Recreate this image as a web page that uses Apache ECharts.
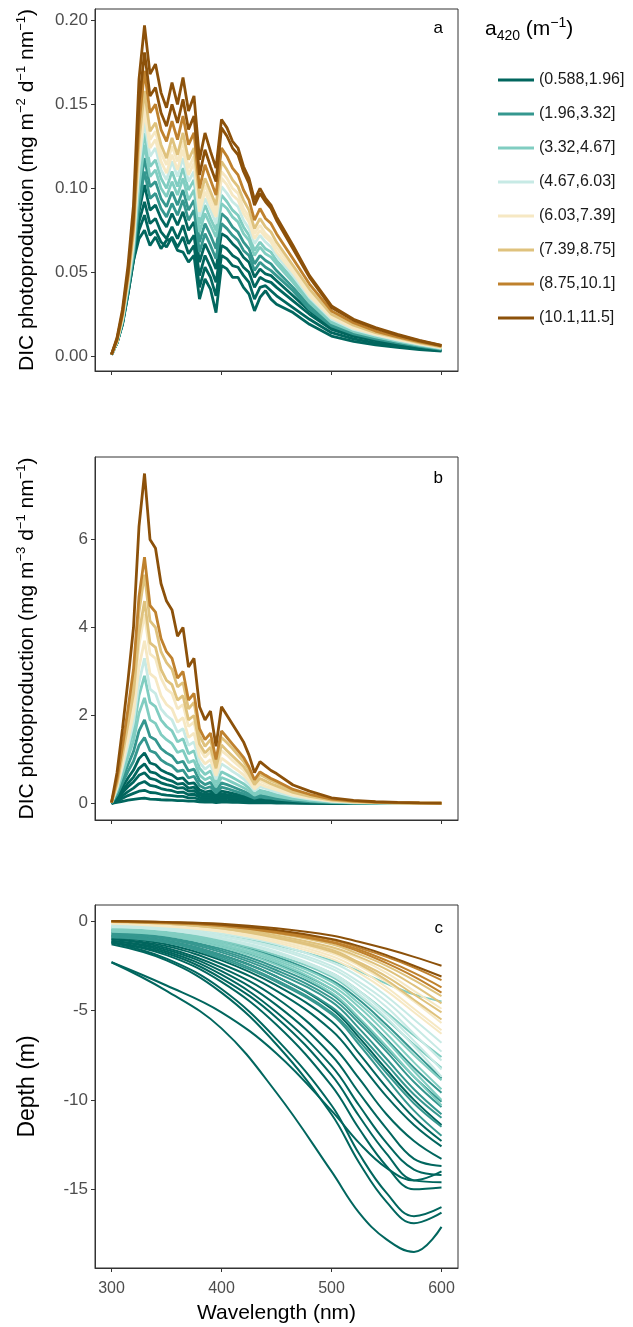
<!DOCTYPE html>
<html>
<head>
<meta charset="utf-8">
<script src="https://cdn.jsdelivr.net/npm/echarts@6/dist/echarts.min.js"></script>
<style>
  html, body { margin: 0; padding: 0; background: #fff; }
  #chart { width: 633px; height: 1327px; }
</style>
</head>
<body>
<div id="chart"></div>
<script>
// a420 classes (m^-1) and their BrBG colours
const classLabels = ['(0.588,1.96]', '(1.96,3.32]', '(3.32,4.67]', '(4.67,6.03]',
                     '(6.03,7.39]', '(7.39,8.75]', '(8.75,10.1]', '(10.1,11.5]'];
const classColors = ['#01665e', '#35978f', '#80cdc1', '#c7eae5',
                     '#f6e8c3', '#dfc27d', '#bf812d', '#8c510a'];

// shared wavelength grid (nm) for the photoproduction spectra
const wavelengths = [300,305,310,315,320,325,330,335,340,345,350,355,360,365,370,375,380,385,390,395,
                     400,405,410,415,420,425,430,435,440,445,450,465,480,500,520,540,560,580,600];
// wavelength grid (nm) for the depth curves
const depthWavelengths = [300,350,400,450,500,525,550,575,600];

const xTicks = [300, 400, 500, 600];
const ticksA = [0, 0.05, 0.10, 0.15, 0.20];
const ticksB = [0, 2, 4, 6];
const ticksC = [0, -5, -10, -15];

// (a) depth-integrated DIC photoproduction, mg m^-2 d^-1 nm^-1
const arealClass = [7,7,6,5,4,4,3,2,2,1,1,0,0,0,0];
const arealValues = [
  [0.001,0.011,0.028,0.054,0.090,0.165,0.197,0.168,0.174,0.157,0.148,0.163,0.150,0.166,0.146,0.155,0.117,0.133,0.122,0.112,0.141,0.136,0.128,0.124,0.113,0.106,0.093,0.100,0.094,0.090,0.083,0.066,0.048,0.030,0.022,0.017,0.013,0.0095,0.0065],
  [0.001,0.010,0.026,0.050,0.083,0.150,0.181,0.155,0.160,0.145,0.137,0.150,0.139,0.153,0.135,0.143,0.108,0.123,0.113,0.104,0.136,0.131,0.124,0.120,0.110,0.103,0.090,0.097,0.092,0.088,0.081,0.064,0.047,0.029,0.0215,0.0165,0.0125,0.0092,0.0063],
  [0.001,0.010,0.025,0.048,0.078,0.138,0.170,0.145,0.150,0.135,0.128,0.140,0.129,0.143,0.126,0.133,0.100,0.114,0.105,0.096,0.124,0.119,0.112,0.108,0.099,0.093,0.081,0.088,0.082,0.079,0.073,0.058,0.043,0.027,0.020,0.015,0.0115,0.0085,0.006],
  [0.001,0.009,0.024,0.046,0.074,0.128,0.158,0.134,0.139,0.126,0.118,0.130,0.120,0.133,0.117,0.124,0.094,0.106,0.098,0.090,0.116,0.111,0.105,0.101,0.093,0.087,0.076,0.082,0.077,0.074,0.068,0.054,0.040,0.025,0.0185,0.014,0.011,0.008,0.0056],
  [0.001,0.009,0.023,0.045,0.071,0.122,0.152,0.129,0.134,0.121,0.114,0.125,0.116,0.128,0.112,0.119,0.090,0.102,0.094,0.086,0.110,0.106,0.100,0.097,0.088,0.083,0.073,0.078,0.073,0.070,0.065,0.052,0.038,0.024,0.0175,0.0135,0.0105,0.0076,0.0054],
  [0.001,0.009,0.023,0.044,0.069,0.117,0.146,0.124,0.129,0.116,0.109,0.120,0.111,0.123,0.108,0.115,0.086,0.098,0.090,0.083,0.106,0.102,0.096,0.093,0.085,0.080,0.070,0.075,0.071,0.068,0.062,0.050,0.036,0.023,0.0167,0.013,0.010,0.0073,0.0051],
  [0.001,0.009,0.022,0.043,0.067,0.112,0.140,0.119,0.124,0.111,0.105,0.116,0.107,0.118,0.104,0.110,0.083,0.094,0.087,0.079,0.101,0.097,0.092,0.089,0.081,0.076,0.067,0.072,0.068,0.065,0.060,0.048,0.035,0.022,0.016,0.0125,0.0096,0.007,0.0049],
  [0.001,0.009,0.022,0.042,0.065,0.107,0.133,0.113,0.117,0.106,0.100,0.110,0.101,0.112,0.099,0.105,0.079,0.090,0.082,0.075,0.096,0.092,0.087,0.084,0.077,0.072,0.063,0.068,0.064,0.062,0.057,0.046,0.033,0.021,0.0153,0.012,0.0092,0.0067,0.0047],
  [0.001,0.008,0.021,0.041,0.063,0.101,0.126,0.107,0.111,0.100,0.095,0.104,0.096,0.106,0.093,0.099,0.074,0.085,0.078,0.071,0.091,0.088,0.083,0.080,0.073,0.069,0.060,0.065,0.061,0.059,0.055,0.044,0.032,0.020,0.0147,0.0115,0.0088,0.0064,0.0045],
  [0.001,0.008,0.021,0.040,0.061,0.096,0.118,0.101,0.104,0.094,0.089,0.098,0.090,0.099,0.087,0.093,0.068,0.079,0.072,0.064,0.085,0.082,0.077,0.074,0.068,0.064,0.055,0.060,0.057,0.055,0.051,0.041,0.030,0.019,0.014,0.011,0.0084,0.0061,0.0043],
  [0.001,0.008,0.020,0.039,0.060,0.090,0.110,0.094,0.097,0.088,0.083,0.091,0.084,0.093,0.081,0.087,0.062,0.073,0.066,0.058,0.079,0.076,0.072,0.069,0.063,0.060,0.051,0.056,0.053,0.051,0.048,0.039,0.028,0.018,0.0133,0.0104,0.008,0.0058,0.0041],
  [0.001,0.008,0.020,0.039,0.059,0.086,0.102,0.087,0.090,0.082,0.077,0.085,0.078,0.086,0.075,0.080,0.056,0.067,0.060,0.052,0.073,0.071,0.067,0.064,0.059,0.056,0.047,0.052,0.049,0.048,0.045,0.036,0.027,0.017,0.0126,0.0099,0.0076,0.0055,0.0039],
  [0.001,0.008,0.020,0.038,0.058,0.080,0.092,0.079,0.082,0.074,0.070,0.077,0.070,0.078,0.067,0.072,0.048,0.060,0.053,0.044,0.066,0.064,0.060,0.058,0.053,0.050,0.041,0.047,0.045,0.044,0.041,0.033,0.025,0.016,0.0118,0.0093,0.0071,0.0051,0.0036],
  [0.001,0.008,0.019,0.037,0.057,0.075,0.084,0.072,0.075,0.068,0.065,0.071,0.065,0.071,0.061,0.066,0.041,0.053,0.047,0.036,0.060,0.058,0.054,0.053,0.048,0.044,0.034,0.041,0.042,0.039,0.036,0.029,0.022,0.014,0.0103,0.008,0.0062,0.0045,0.0033],
  [0.001,0.008,0.019,0.037,0.057,0.070,0.075,0.066,0.071,0.064,0.069,0.070,0.063,0.062,0.056,0.060,0.034,0.046,0.040,0.026,0.054,0.052,0.047,0.047,0.041,0.037,0.027,0.035,0.039,0.034,0.031,0.026,0.019,0.012,0.0088,0.0068,0.0053,0.004,0.003]
];

// (b) surface DIC photoproduction, mg m^-3 d^-1 nm^-1
const surfaceClass = [7,6,5,5,4,4,3,2,2,1,1,0,0,0,0,0,0];
const surfaceValues = [
  [0.02,0.7,1.7,2.8,4.0,6.3,7.5,6.0,5.8,5.0,4.6,4.4,3.8,4.0,3.1,3.3,2.2,1.9,2.1,1.3,2.2,2.0,1.8,1.6,1.4,1.1,0.7,0.95,0.85,0.75,0.68,0.42,0.28,0.13,0.07,0.04,0.025,0.015,0.01],
  [0.02,0.55,1.3,2.15,3.05,4.7,5.6,4.5,4.35,3.75,3.45,3.3,2.85,3.0,2.35,2.5,1.7,1.45,1.6,1.0,1.65,1.5,1.35,1.2,1.05,0.83,0.54,0.72,0.64,0.57,0.51,0.32,0.21,0.1,0.053,0.03,0.019,0.012,0.008],
  [0.02,0.5,1.2,2.0,2.8,4.35,5.2,4.15,4.0,3.45,3.2,3.05,2.65,2.75,2.15,2.3,1.55,1.3,1.45,0.92,1.5,1.38,1.25,1.1,0.96,0.76,0.5,0.66,0.59,0.52,0.47,0.29,0.19,0.09,0.048,0.028,0.017,0.011,0.007],
  [0.02,0.45,1.1,1.8,2.5,3.85,4.6,3.65,3.55,3.05,2.8,2.7,2.35,2.45,1.9,2.0,1.35,1.15,1.28,0.8,1.33,1.2,1.08,0.96,0.84,0.66,0.43,0.57,0.51,0.45,0.4,0.25,0.16,0.075,0.04,0.024,0.015,0.009,0.006],
  [0.02,0.42,1.0,1.65,2.35,3.6,4.3,3.4,3.3,2.85,2.6,2.5,2.15,2.25,1.75,1.85,1.25,1.05,1.18,0.74,1.2,1.1,0.98,0.87,0.76,0.6,0.39,0.52,0.46,0.41,0.36,0.22,0.14,0.066,0.035,0.021,0.013,0.008,0.005],
  [0.02,0.38,0.9,1.45,2.05,3.1,3.7,2.95,2.85,2.45,2.25,2.15,1.85,1.95,1.5,1.6,1.07,0.9,1.0,0.63,1.03,0.94,0.84,0.75,0.65,0.51,0.33,0.44,0.39,0.35,0.31,0.19,0.12,0.056,0.03,0.018,0.011,0.007,0.005],
  [0.02,0.35,0.82,1.32,1.85,2.75,3.3,2.6,2.5,2.15,2.0,1.9,1.62,1.7,1.32,1.4,0.94,0.78,0.88,0.55,0.9,0.82,0.73,0.65,0.56,0.44,0.29,0.38,0.34,0.3,0.26,0.16,0.1,0.048,0.026,0.016,0.01,0.006,0.004],
  [0.02,0.32,0.75,1.2,1.65,2.45,2.9,2.3,2.2,1.9,1.75,1.65,1.4,1.47,1.13,1.2,0.8,0.66,0.74,0.46,0.72,0.66,0.59,0.52,0.45,0.35,0.23,0.3,0.27,0.24,0.2,0.12,0.078,0.037,0.02,0.012,0.008,0.005,0.003],
  [0.02,0.28,0.66,1.05,1.42,2.05,2.4,1.9,1.82,1.57,1.45,1.36,1.16,1.21,0.93,0.98,0.65,0.54,0.6,0.38,0.59,0.54,0.48,0.42,0.36,0.28,0.19,0.24,0.22,0.19,0.16,0.1,0.063,0.03,0.016,0.01,0.006,0.004,0.003],
  [0.01,0.24,0.56,0.88,1.18,1.65,1.9,1.52,1.45,1.25,1.15,1.08,0.92,0.96,0.74,0.78,0.52,0.43,0.48,0.3,0.47,0.43,0.38,0.33,0.28,0.22,0.15,0.19,0.17,0.15,0.13,0.08,0.05,0.024,0.013,0.008,0.005,0.003,0.002],
  [0.01,0.2,0.47,0.73,0.96,1.32,1.5,1.2,1.15,0.99,0.91,0.85,0.73,0.76,0.58,0.62,0.41,0.34,0.38,0.24,0.37,0.34,0.3,0.26,0.22,0.17,0.12,0.15,0.13,0.12,0.1,0.065,0.04,0.019,0.01,0.006,0.004,0.003,0.002],
  [0.01,0.16,0.38,0.58,0.76,1.02,1.15,0.92,0.88,0.76,0.7,0.65,0.56,0.58,0.45,0.47,0.31,0.26,0.29,0.18,0.28,0.26,0.23,0.2,0.17,0.13,0.09,0.11,0.1,0.09,0.08,0.05,0.031,0.015,0.008,0.005,0.003,0.002,0.001],
  [0.01,0.13,0.3,0.46,0.6,0.8,0.9,0.72,0.69,0.6,0.55,0.51,0.44,0.46,0.35,0.37,0.24,0.2,0.23,0.14,0.22,0.2,0.18,0.155,0.13,0.1,0.07,0.085,0.078,0.07,0.062,0.039,0.024,0.012,0.006,0.004,0.002,0.0015,0.001],
  [0.01,0.11,0.25,0.38,0.49,0.64,0.7,0.57,0.54,0.47,0.43,0.4,0.35,0.36,0.28,0.29,0.19,0.16,0.18,0.11,0.17,0.16,0.14,0.12,0.1,0.08,0.055,0.07,0.06,0.055,0.05,0.03,0.019,0.009,0.005,0.003,0.002,0.001,0.001],
  [0.0,0.08,0.18,0.27,0.35,0.45,0.5,0.41,0.39,0.34,0.31,0.29,0.25,0.26,0.2,0.21,0.14,0.115,0.13,0.08,0.125,0.115,0.1,0.087,0.075,0.06,0.04,0.05,0.045,0.04,0.036,0.022,0.014,0.007,0.004,0.002,0.001,0.001,0.0],
  [0.0,0.05,0.12,0.18,0.23,0.28,0.3,0.25,0.24,0.21,0.19,0.18,0.16,0.16,0.13,0.13,0.09,0.075,0.08,0.05,0.08,0.07,0.065,0.055,0.05,0.04,0.03,0.035,0.03,0.028,0.025,0.016,0.01,0.005,0.003,0.002,0.001,0.001,0.0],
  [0.0,0.025,0.05,0.075,0.095,0.11,0.12,0.1,0.095,0.085,0.08,0.075,0.065,0.065,0.055,0.055,0.04,0.032,0.035,0.022,0.034,0.031,0.028,0.024,0.021,0.017,0.012,0.015,0.013,0.012,0.011,0.007,0.004,0.002,0.001,0.001,0.0,0.0,0.0]
];

// (c) photoproduction depth (m)
const depthClass = [7,7,6,6,6,5,5,5,5,4,4,4,4,3,3,3,3,3,2,2,2,2,2,2,2,1,1,1,1,1,1,1,1,0,0,0,0,0,0,0,0,0,0,0,0];
const depthValues = [
  [0.0,-0.05,-0.15,-0.4,-0.8,-1.15,-1.55,-2.0,-2.5],
  [0.0,-0.06,-0.2,-0.5,-1.0,-1.4,-1.9,-2.5,-3.1],
  [-0.02,-0.08,-0.22,-0.55,-1.05,-1.5,-2.0,-2.6,-3.3],
  [-0.02,-0.1,-0.25,-0.6,-1.15,-1.6,-2.2,-2.9,-3.7],
  [-0.03,-0.1,-0.28,-0.65,-1.2,-1.7,-2.35,-3.1,-4.0],
  [-0.03,-0.1,-0.3,-0.7,-1.3,-1.85,-2.5,-3.3,-4.2],
  [-0.04,-0.12,-0.35,-0.8,-1.45,-2.0,-2.7,-3.6,-4.6],
  [-0.05,-0.15,-0.4,-0.9,-1.6,-2.3,-3.1,-4.1,-5.1],
  [-0.05,-0.15,-0.42,-0.95,-1.7,-2.4,-3.3,-4.4,-5.5],
  [-0.05,-0.15,-0.4,-0.85,-1.5,-2.1,-2.9,-3.9,-4.9],
  [-0.1,-0.2,-0.5,-1.0,-1.8,-2.5,-3.4,-4.5,-5.7],
  [-0.1,-0.25,-0.55,-1.1,-1.95,-2.7,-3.7,-4.9,-6.1],
  [-0.15,-0.3,-0.6,-1.2,-2.1,-2.9,-3.9,-5.1,-6.3],
  [-0.2,-0.35,-0.7,-1.3,-2.3,-3.1,-4.2,-5.5,-6.8],
  [-0.25,-0.4,-0.8,-1.45,-2.5,-3.4,-4.5,-5.9,-7.3],
  [-0.3,-0.45,-0.85,-1.55,-2.65,-3.6,-4.8,-6.3,-7.8],
  [-0.3,-0.5,-0.95,-1.7,-2.9,-3.9,-5.2,-6.7,-8.3],
  [-0.35,-0.5,-1.0,-1.8,-3.0,-4.1,-5.4,-7.0,-8.7],
  [-0.3,-0.45,-0.8,-1.35,-2.2,-2.8,-3.5,-4.1,-4.5],
  [-0.35,-0.55,-1.0,-1.75,-2.9,-3.9,-5.1,-6.4,-7.6],
  [-0.4,-0.6,-1.1,-1.9,-3.1,-4.2,-5.5,-6.9,-8.2],
  [-0.45,-0.65,-1.2,-2.1,-3.4,-4.6,-6.0,-7.5,-8.9],
  [-0.5,-0.7,-1.3,-2.2,-3.6,-4.8,-6.3,-7.9,-9.4],
  [-0.55,-0.75,-1.35,-2.3,-3.8,-5.1,-6.7,-8.4,-10.0],
  [-0.6,-0.8,-1.45,-2.45,-4.0,-5.4,-7.0,-8.7,-10.3],
  [-0.5,-0.7,-1.2,-2.0,-3.3,-4.4,-5.8,-7.3,-8.8],
  [-0.6,-0.8,-1.4,-2.4,-3.8,-5.1,-6.6,-8.2,-9.6],
  [-0.65,-0.9,-1.55,-2.6,-4.1,-5.5,-7.1,-8.7,-10.1],
  [-0.7,-0.95,-1.65,-2.75,-4.3,-5.7,-7.3,-9.0,-10.4],
  [-0.75,-1.0,-1.75,-2.9,-4.5,-6.0,-7.7,-9.4,-10.8],
  [-0.8,-1.1,-1.9,-3.1,-4.8,-6.3,-8.0,-9.7,-11.0],
  [-0.85,-1.15,-2.0,-3.3,-5.1,-6.7,-8.5,-10.2,-11.5],
  [-0.9,-1.2,-2.1,-3.4,-5.2,-6.9,-8.8,-10.6,-12.0],
  [-0.8,-1.1,-1.9,-3.1,-4.9,-6.5,-8.3,-10.0,-11.4],
  [-0.9,-1.3,-2.2,-3.6,-5.6,-7.4,-9.3,-11.0,-12.3],
  [-1.0,-1.4,-2.4,-3.9,-6.1,-7.9,-9.8,-11.4,-12.6],
  [-1.0,-1.5,-2.6,-4.3,-6.9,-8.8,-10.8,-12.3,-13.3],
  [-1.1,-1.6,-2.8,-4.7,-7.5,-9.6,-11.6,-13.3,-13.7],
  [-1.1,-1.7,-3.0,-5.1,-8.1,-10.3,-12.4,-13.9,-14.2],
  [-1.2,-1.8,-3.2,-5.4,-8.6,-10.9,-13.0,-14.5,-14.6],
  [-1.2,-1.9,-3.4,-5.8,-9.2,-11.6,-13.7,-15.0,-14.9],
  [-1.2,-2.1,-3.8,-6.6,-10.3,-13.0,-15.2,-16.5,-16.0],
  [-1.3,-2.2,-4.0,-6.9,-10.8,-13.5,-15.7,-16.9,-16.3],
  [-2.3,-3.6,-5.1,-7.4,-10.6,-12.4,-13.8,-14.5,-14.0],
  [-2.3,-3.9,-6.0,-9.6,-14.0,-16.3,-17.8,-18.5,-17.1]
];

const FONT = '"Liberation Sans", Arial, Helvetica, sans-serif';
const AXIS_COLOR = '#333333';
const TICK_TEXT = '#4d4d4d';

const series = [];
// draws dark classes first so the brown, high-a420 spectra sit on top
function addLines(panel, xs, classIdx, rows, width, smooth) {
  const order = rows.map((r, i) => i).sort((p, q) => classIdx[p] - classIdx[q]);
  order.forEach(k => {
    const col = classColors[classIdx[k]];
    series.push({
      type: 'line',
      name: classLabels[classIdx[k]],
      xAxisIndex: panel,
      yAxisIndex: panel,
      data: xs.map((x, i) => [x, rows[k][i]]),
      symbol: 'none',
      smooth: smooth,
      lineStyle: { color: col, width: width },
      itemStyle: { color: col },
      silent: true,
      animation: false
    });
  });
}
addLines(0, wavelengths, arealClass, arealValues, 2.8, false);
addLines(1, wavelengths, surfaceClass, surfaceValues, 2.8, false);
addLines(2, depthWavelengths, depthClass, depthValues, 2, 0.4);

const grids = [
  { left: 95, top: 9, width: 363, height: 362 },
  { left: 95, top: 457, width: 363, height: 363 },
  { left: 95, top: 905, width: 363, height: 363 }
].map(g => Object.assign(g, { show: true, borderColor: AXIS_COLOR, borderWidth: 1, backgroundColor: 'transparent' }));

const supStyle = { fontSize: 13, lineHeight: 14, verticalAlign: 'top', fontFamily: FONT, color: '#000' };

function xAxisFor(i) {
  return {
    type: 'value', gridIndex: i, min: 285, max: 615, position: 'bottom',
    axisLine: { show: true, onZero: false, lineStyle: { color: AXIS_COLOR, width: 1 } },
    splitLine: { show: false },
    axisTick: { show: true, customValues: xTicks, length: 4, lineStyle: { color: AXIS_COLOR, width: 1 } },
    axisLabel: { show: i === 2, customValues: xTicks, color: TICK_TEXT, fontSize: 16, margin: 13, fontFamily: FONT },
    name: i === 2 ? 'Wavelength (nm)' : '',
    nameLocation: 'middle', nameGap: 35,
    nameTextStyle: { fontSize: 21, color: '#000', fontFamily: FONT }
  };
}

function yAxisFor(i, min, max, ticks, fmt, name, gap, size) {
  return {
    type: 'value', gridIndex: i, min: min, max: max, position: 'left',
    axisLine: { show: true, onZero: false, lineStyle: { color: AXIS_COLOR, width: 1 } },
    splitLine: { show: false },
    axisTick: { show: true, customValues: ticks, length: 4, lineStyle: { color: AXIS_COLOR, width: 1 } },
    axisLabel: { customValues: ticks, formatter: fmt, color: TICK_TEXT, fontSize: 17, margin: 7, fontFamily: FONT },
    name: name, nameLocation: 'middle', nameGap: gap,
    nameTextStyle: { fontSize: size, lineHeight: 24, color: '#000', fontFamily: FONT, rich: { sup: supStyle } }
  };
}

const option = {
  animation: false,
  backgroundColor: '#ffffff',
  grid: grids,
  xAxis: [xAxisFor(0), xAxisFor(1), xAxisFor(2)],
  yAxis: [
    yAxisFor(0, -0.0088, 0.2068, ticksA, v => v.toFixed(2),
             'DIC photoproduction (mg m{sup|−2} d{sup|−1} nm{sup|−1})', 56, 21),
    yAxisFor(1, -0.375, 7.875, ticksB, v => String(v),
             'DIC photoproduction (mg m{sup|−3} d{sup|−1} nm{sup|−1})', 56, 21),
    yAxisFor(2, -19.4, 0.9, ticksC, v => String(v), 'Depth (m)', 55, 23)
  ],
  legend: {
    data: classLabels,
    orient: 'vertical',
    left: 493, top: 67,
    icon: 'rect',
    itemWidth: 36, itemHeight: 3,
    itemGap: 18,
    selectedMode: false,
    textStyle: { fontSize: 16, lineHeight: 16, color: '#1a1a1a', fontFamily: FONT }
  },
  graphic: [
    { type: 'text', left: 485, top: 16, silent: true,
      style: { text: 'a{sub|420} (m{sup|−1})', fontSize: 21, lineHeight: 27, fontFamily: FONT, fill: '#000',
               rich: { sub: { fontSize: 14, lineHeight: 15, verticalAlign: 'bottom', fontFamily: FONT, fill: '#000' },
                       sup: { fontSize: 14, lineHeight: 15, verticalAlign: 'top', fontFamily: FONT, fill: '#000' } } } },
    { type: 'text', right: 633 - 443, top: 20, silent: true, style: { text: 'a', fontSize: 17, fontFamily: FONT, fill: '#000' } },
    { type: 'text', right: 633 - 443, top: 470, silent: true, style: { text: 'b', fontSize: 17, fontFamily: FONT, fill: '#000' } },
    { type: 'text', right: 633 - 443, top: 920, silent: true, style: { text: 'c', fontSize: 17, fontFamily: FONT, fill: '#000' } }
  ],
  series: series
};

const chart = echarts.init(document.getElementById('chart'), null, { renderer: 'canvas', width: 633, height: 1327 });
chart.setOption(option);
</script>
</body>
</html>
